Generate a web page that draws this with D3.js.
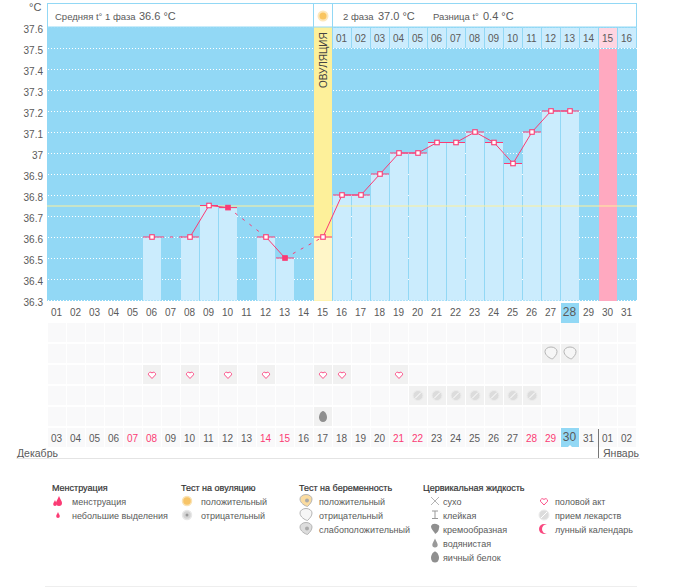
<!DOCTYPE html>
<html>
<head>
<meta charset="utf-8">
<script src="https://cdnjs.cloudflare.com/ajax/libs/d3/7.8.5/d3.min.js"></script>
<style>
html, body { margin: 0; padding: 0; background: #fff; }
svg { display: block; }
text { font-family: "Liberation Sans", "DejaVu Sans", sans-serif; fill: #5a5a5a; }
</style>
</head>
<body>
<div id="chart"></div>
<script>
// cycle days along the chart, top axis and bottom calendar
var days = ["01","02","03","04","05","06","07","08","09","10","11","12","13","14","15","16","17","18","19","20","21","22","23","24","25","26","27","28","29","30","31"];
var dates = ["03","04","05","06","07","08","09","10","11","12","13","14","15","16","17","18","19","20","21","22","23","24","25","26","27","28","29","30","31","01","02"];
var weekendDates = ["07","08","14","15","21","22","28","29"];
var phase2Days = ["01","02","03","04","05","06","07","08","09","10","11","12","13","14","15","16"];
var yTicks = [37.6,37.5,37.4,37.3,37.2,37.1,37,36.9,36.8,36.7,36.6,36.5,36.4,36.3];

// temperature readings, by cycle day
var tempDays = ["06","08","09","10","12","13","15","16","17","18","19","20","21","22","23","24","25","26","27","28"];
var tempValues = [36.6,36.6,36.75,36.74,36.6,36.5,36.6,36.8,36.8,36.9,37,37,37.05,37.05,37.1,37.05,36.95,37.1,37.2,37.2];
var filledDays = ["10","13"];
var coverLine = 36.75;
var ovulationDay = "15";
var periodDay = "30";
var currentDay = "28";

// calendar rows
var pregnancyTestDays = ["29","30"];
var heartDays = ["08","10","12","14","17","18","21"];
var pillDays = ["22","23","24","25","26","27","28"];
var eggDays = ["17"];
var currentDate = "30";

var legendGroups = [
    {title: "Менструация", items: [["flow","менструация"],["spot","небольшие выделения"]]},
    {title: "Тест на овуляцию", items: [["ovPos","положительный"],["ovNeg","отрицательный"]]},
    {title: "Тест на беременность", items: [["prPos","положительный"],["prNeg","отрицательный"],["prWeak","слабоположительный"]]},
    {title: "Цервикальная жидкость", items: [["dry","сухо"],["sticky","клейкая"],["creamy","кремообразная"],["watery","водянистая"],["egg","яичный белок"]]},
    {title: "", items: [["heart","половой акт"],["pill","прием лекарств"],["moon","лунный календарь"]]}
];

var BLUE = "#92d8f5", LIGHT = "#cbecfd", PINK = "#fb3b74", CELL = "#f9f9fa", ACTIVE = "#f1f1f1";

var svg = d3.select("#chart").append("svg").attr("width", 675).attr("height", 587);

var x = d3.scaleBand().domain(days).range([48, 637]);
var xDate = d3.scaleBand().domain(dates).range([48, 637]);
var y = d3.scaleLinear().domain([36.3, 37.6]).range([300.5, 27.5]);
var bw = x.bandwidth();
function cx(d) { return x(d) + bw / 2 - 0.5; }

/* ---------- plot background ---------- */
svg.append("rect").attr("x", 47).attr("y", 27).attr("width", 590).attr("height", 274).attr("fill", BLUE);

svg.selectAll(".grid").data(yTicks).enter().append("line")
    .attr("x1", 48).attr("x2", 637)
    .attr("y1", function(d){ return y(d); }).attr("y2", function(d){ return y(d); })
    .attr("stroke", function(d){ return d == 37.6 ? "#a9e0f7" : "#fff"; })
    .attr("stroke-dasharray", "1,2");

// ovulation and period columns
svg.append("rect").attr("x", x(ovulationDay)).attr("y", 27).attr("width", bw - 1).attr("height", 274).attr("fill", "#fdf09a");
svg.append("rect").attr("x", x(periodDay)).attr("y", 49).attr("width", bw - 1).attr("height", 252).attr("fill", "#ffa9c0");

// bars
var temps = tempDays.map(function(d, i){ return {day: d, value: tempValues[i]}; });
svg.selectAll(".bar").data(temps).enter().append("rect")
    .attr("x", function(d){ return x(d.day); })
    .attr("y", function(d){ return y(d.value); })
    .attr("width", bw - 1)
    .attr("height", function(d){ return y(36.3) - y(d.value); })
    .attr("fill", function(d){ return d.day == ovulationDay ? "#fff6c8" : LIGHT; });

// cover line
svg.append("line").attr("x1", 47).attr("x2", 637)
    .attr("y1", y(coverLine)).attr("y2", y(coverLine))
    .attr("stroke", "#fdf09a").attr("stroke-width", 1);

// phase two header cells
svg.selectAll(".topcell").data(phase2Days).enter().append("rect")
    .attr("x", function(d, i){ return x(days[15 + i]); })
    .attr("y", 28).attr("width", bw - 1).attr("height", 20)
    .attr("fill", function(d, i){ return days[15 + i] == periodDay ? "#ffd5e1" : LIGHT; });
svg.selectAll(".toplabel").data(phase2Days).enter().append("text")
    .attr("x", function(d, i){ return cx(days[15 + i]) - 0.5; })
    .attr("y", 42).attr("text-anchor", "middle").attr("font-size", 10).text(function(d){ return d; });

/* ---------- temperature line ---------- */
var line = d3.line().x(function(d){ return cx(d.day); }).y(function(d){ return y(d.value) - 0.5; });
temps.forEach(function(d, i){
    if (i == 0) return;
    var prev = temps[i - 1];
    var gap = days.indexOf(d.day) - days.indexOf(prev.day);
    svg.append("path").attr("d", line([prev, d])).attr("fill", "none")
        .attr("stroke", PINK).attr("stroke-width", 1)
        .attr("stroke-dasharray", gap > 1 ? "3,6" : null);
});
svg.selectAll(".cap").data(temps).enter().append("line")
    .attr("x1", function(d){ return x(d.day); })
    .attr("x2", function(d){ return x(d.day) + bw - 1; })
    .attr("y1", function(d){ return y(d.value) - 0.5; })
    .attr("y2", function(d){ return y(d.value) - 0.5; })
    .attr("stroke", PINK).attr("stroke-width", 1);
svg.selectAll(".pt").data(temps).enter().append("rect")
    .attr("x", function(d){ return cx(d.day) - 2.25; })
    .attr("y", function(d){ return y(d.value) - 2.75; })
    .attr("width", 4.5).attr("height", 4.5)
    .attr("fill", function(d){ return filledDays.indexOf(d.day) >= 0 ? PINK : "#fff"; })
    .attr("stroke", PINK).attr("stroke-width", 1.1);

/* ---------- header box ---------- */
svg.append("rect").attr("x", 47.5).attr("y", 3.5).attr("width", 589).attr("height", 23.5).attr("fill", "#fff").attr("stroke", BLUE);
svg.append("line").attr("x1", 313.5).attr("x2", 313.5).attr("y1", 3).attr("y2", 27).attr("stroke", BLUE);
svg.append("line").attr("x1", 332.5).attr("x2", 332.5).attr("y1", 3).attr("y2", 27).attr("stroke", BLUE);
svg.append("circle").attr("cx", 323).attr("cy", 16).attr("r", 5.5).attr("fill", "#fde7ba");
svg.append("circle").attr("cx", 323).attr("cy", 16).attr("r", 3.5).attr("fill", "#f9c560");

function label(px, py, txt, size, anchor, color) {
    return svg.append("text").attr("x", px).attr("y", py).attr("font-size", size)
        .attr("text-anchor", anchor || "start").style("fill", color || "#5a5a5a").text(txt);
}
label(55, 19.5, "Средняя t° 1 фаза", 9.5);
label(139, 19.5, "36.6 °C", 11);
label(343, 19.5, "2 фаза", 9.5);
label(378, 19.5, "37.0 °C", 11);
label(433, 19.5, "Разница t°", 9.5);
label(483, 19.5, "0.4 °C", 11);
label(29, 11, "°C", 11);

svg.append("text").attr("transform", "translate(327,88) rotate(-90)").attr("font-size", 10).style("fill", "#444").text("ОВУЛЯЦИЯ");

svg.selectAll(".ylabel").data(yTicks).enter().append("text")
    .attr("x", 43).attr("y", function(d){ return y(d) + 5; })
    .attr("text-anchor", "end").attr("font-size", 10).text(function(d){ return d; });

/* ---------- calendar ---------- */
var rowY = d3.scaleBand().domain(["r0","pregnancy","heart","pill","fluid"]).range([323, 428]);

svg.append("rect").attr("x", x(currentDay)).attr("y", 303).attr("width", bw - 1).attr("height", 20).attr("fill", BLUE);
svg.selectAll(".daylabel").data(days).enter().append("text")
    .attr("x", function(d){ return cx(d) - 0.5; }).attr("y", 316)
    .attr("text-anchor", "middle")
    .attr("font-size", function(d){ return d == currentDay ? 12 : 10; })
    .text(function(d){ return d; });

rowY.domain().forEach(function(r){
    svg.selectAll(".cell" + r).data(dates).enter().append("rect")
        .attr("x", function(d){ return xDate(d); })
        .attr("y", rowY(r)).attr("width", bw - 1).attr("height", rowY.bandwidth() - 2)
        .attr("fill", CELL);
});
svg.selectAll(".dcell").data(dates).enter().append("rect")
    .attr("x", function(d){ return xDate(d); }).attr("y", 428)
    .attr("width", bw - 1).attr("height", 19)
    .attr("fill", function(d){ return d == currentDate ? BLUE : CELL; });
svg.selectAll(".datelabel").data(dates).enter().append("text")
    .attr("x", function(d){ return xDate(d) + bw / 2 - 1; })
    .attr("y", function(d){ return d == currentDate ? 441 : 441.5; })
    .attr("text-anchor", "middle")
    .attr("font-size", function(d){ return d == currentDate ? 12 : 10; })
    .style("fill", function(d){ return weekendDates.indexOf(d) >= 0 ? PINK : "#5a5a5a"; })
    .text(function(d){ return d; });
var curX = xDate(currentDate) + bw / 2 - 0.5;
svg.append("path").attr("d", "M" + (curX - 2) + ",447 L" + curX + ",445 L" + (curX + 2) + ",447Z").attr("fill", "#fff");

/* ---------- icons ---------- */
function icon(kind, px, py) {
    var g = svg.append("g").attr("transform", "translate(" + px + "," + py + ")");
    var drop = "M0,-5 C1,-2 3,0 3,2 A3,3 0 0 1 -3,2 C-3,0 -1,-2 0,-5Z";
    if (kind == "heart") {
        g.append("path").attr("d", "M0,4 L-3.5,0.3 A2,2 0 0 1 0,-1.5 A2,2 0 0 1 3.5,0.3Z")
            .attr("fill", "#fff").attr("stroke", "#fb5088").attr("stroke-width", 1);
    } else if (kind == "pill") {
        g.append("circle").attr("r", 5).attr("fill", "#dcdcdc").attr("stroke", "#ececec");
        g.append("line").attr("x1", -3).attr("y1", 3).attr("x2", 3).attr("y2", -3).attr("stroke", "#fff").attr("stroke-width", 1);
    } else if (kind == "egg") {
        g.append("path").attr("d", "M0,-5.5 C2.5,-5 4,-1.5 4,1 A4,4.5 0 0 1 -4,1 C-4,-1.5 -2.5,-5 0,-5.5Z").attr("fill", "#8f8f8f");
    } else if (kind == "watery") {
        g.append("path").attr("d", drop).attr("fill", "#999").attr("transform", "scale(0.9)");
    } else if (kind == "creamy") {
        g.append("path").attr("d", "M-4,-3 A4,3 0 0 1 4,-1 C4,2 2,4 0,5 C0,3 -4,1 -4,-3Z").attr("fill", "#8f8f8f");
    } else if (kind == "sticky") {
        g.append("path").attr("d", "M-3,-4 H3 M0,-4 V3 M-3,3.5 H3").attr("stroke", "#999").attr("fill", "none");
    } else if (kind == "dry") {
        g.append("path").attr("d", "M-4,-4 L4,4 M4,-4 L-4,4").attr("stroke", "#b5b5b5").attr("fill", "none");
    } else if (kind == "flow") {
        g.append("path").attr("d", drop).attr("fill", PINK).attr("transform", "translate(1,0)");
        g.append("path").attr("d", drop).attr("fill", PINK).attr("transform", "translate(-3,2) scale(0.6)");
    } else if (kind == "spot") {
        g.append("path").attr("d", drop).attr("fill", PINK).attr("transform", "scale(0.6)");
    } else if (kind == "ovPos") {
        g.append("circle").attr("r", 4.5).attr("fill", "#f7c467").attr("stroke", "#fae3b5").attr("stroke-width", 1.5);
    } else if (kind == "ovNeg") {
        g.append("circle").attr("r", 4.5).attr("fill", "#d4d4d4").attr("stroke", "#e8e8e8").attr("stroke-width", 1.5);
        g.append("circle").attr("r", 1.5).attr("fill", "#999");
    } else if (kind == "prNeg" || kind == "prPos" || kind == "prWeak") {
        g.append("path").attr("d", "M-6,-2 A6,4.5 0 0 1 6,-2 C6,1 4,3 1.5,5.5 C-1,5 -6,2 -6,-2Z")
            .attr("fill", kind == "prPos" ? "#fbdca0" : kind == "prWeak" ? "#ddd" : "#f6f6f6")
            .attr("stroke", "#b5b5b5");
        if (kind != "prNeg") g.append("circle").attr("r", 2).attr("cx", 1).attr("cy", -0.5).attr("fill", "#aaa");
    } else if (kind == "moon") {
        g.append("circle").attr("r", 5).attr("fill", "#f9487f");
        g.append("circle").attr("r", 4.5).attr("cx", 2.5).attr("fill", "#fff");
    }
}

var cellCenter = function(d, r) { return [xDate(d) + bw / 2 - 0.5, rowY(r) + (rowY.bandwidth() - 2) / 2]; };
function placeRow(list, r, kind) {
    list.forEach(function(d){
        var c = cellCenter(d, r);
        svg.append("rect").attr("x", xDate(d)).attr("y", rowY(r)).attr("width", bw - 1).attr("height", rowY.bandwidth() - 2).attr("fill", ACTIVE);
        icon(kind, c[0], c[1]);
    });
}
placeRow(pregnancyTestDays, "pregnancy", "prNeg");
placeRow(heartDays, "heart", "heart");
placeRow(pillDays, "pill", "pill");
placeRow(eggDays, "fluid", "egg");

/* ---------- months ---------- */
label(17, 457, "Декабрь", 10.5);
label(603, 457, "Январь", 10.5);
svg.append("line").attr("x1", 598.5).attr("x2", 598.5).attr("y1", 429).attr("y2", 458).attr("stroke", "#777");
svg.append("line").attr("x1", 17).attr("x2", 640).attr("y1", 458.5).attr("y2", 458.5).attr("stroke", "#e4e4e4");

/* ---------- legend ---------- */
var groupX = [52, 181, 299, 423, 540];
var iconOffset = [6, 6, 7, 12, 4];
var textOffset = [20, 20, 20, 20, 15];
legendGroups.forEach(function(g, i){
    if (g.title) label(groupX[i], 491, g.title, 9, "start", "#333").style("stroke", "#333").style("stroke-width", 0.2);
    g.items.forEach(function(item, j){
        var py = 501 + j * 14;
        icon(item[0], groupX[i] + iconOffset[i], py);
        label(groupX[i] + textOffset[i], py + 3.5, item[1], 9);
    });
});
svg.append("line").attr("x1", 45).attr("x2", 637).attr("y1", 586.5).attr("y2", 586.5).attr("stroke", "#eee");
</script>
</body>
</html>
